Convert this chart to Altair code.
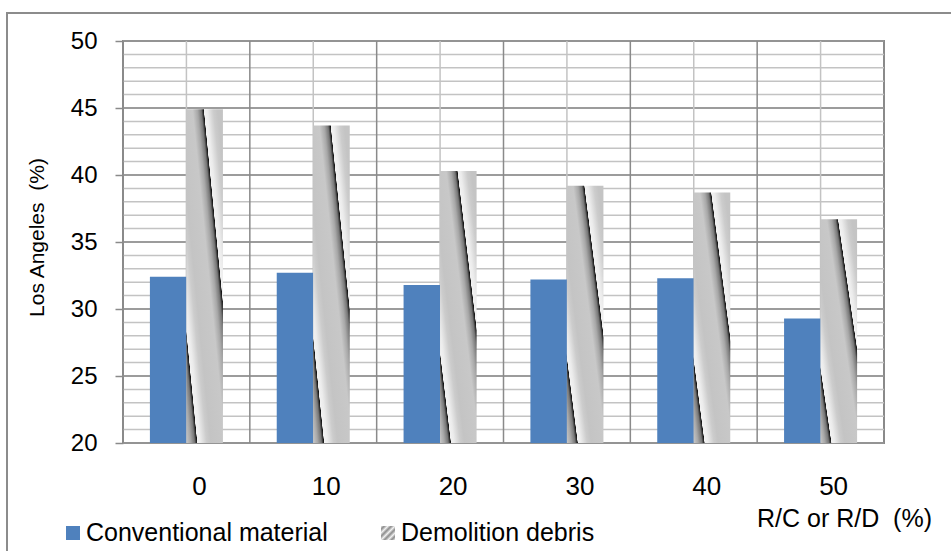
import altair as alt
import pandas as pd

# Los Angeles abrasion (%) for each replacement ratio
categories = ["0", "10", "20", "30", "40", "50"]
conventional = [32.4, 32.7, 31.8, 32.2, 32.3, 29.3]
demolition = [44.9, 43.7, 40.3, 39.2, 38.7, 36.7]
series = ["Conventional material", "Demolition debris"]
y_ticks = [20, 25, 30, 35, 40, 45, 50]
y_minor = list(range(20, 51))
x_title = "R/C or R/D \u00a0(%)"
y_title = "Los Angeles \u00a0(%)"

FONT = "Liberation Sans"
BLUE = "#4f81bd"
GRID_MAJOR = "#8a8a8a"
GRID_MINOR = "#c3c3c3"

W, H = 761, 402

bars = pd.DataFrame({
    "cat": categories * 2,
    "series": [series[0]] * len(categories) + [series[1]] * len(categories),
    "value": conventional + demolition,
})

x_scale = alt.Scale(domain=categories, paddingInner=0, paddingOuter=0)
y_scale = alt.Scale(domain=[20, 50], nice=False, zero=False)
off_scale = alt.Scale(domain=series, paddingInner=0, paddingOuter=0.737)


def grad_stops(pairs):
    return [alt.GradientStop(offset=o, color=c) for o, c in pairs]


def stripe_profile(s):
    return [
        (s - 0.16, "#c8c8c8"), (s - 0.09, "#a8a8a8"), (s - 0.035, "#777777"),
        (s - 0.008, "#2a2a2a"), (s, "#111111"), (s + 0.006, "#f2f2f2"),
        (s + 0.05, "#ececec"), (s + 0.14, "#cccccc"), (s + 0.2, "#c4c4c4"),
    ]


# slanted metallic stripes for the demolition-debris bars
stripe_fill = alt.Gradient(
    gradient="linear", x1=0, y1=1, x2=1.05, y2=0.055,
    stops=grad_stops([(0.0, "#b8b8b8")] + stripe_profile(0.153)
                     + stripe_profile(0.721) + [(1.0, "#c4c4c4")]),
)

# small striped swatch for the legend
swatch_fill = alt.Gradient(
    gradient="linear", x1=0, y1=0, x2=1, y2=1,
    stops=grad_stops([
        (0.0, "#f0f0f0"), (0.12, "#8a8a8a"), (0.25, "#f0f0f0"), (0.37, "#8a8a8a"),
        (0.5, "#f0f0f0"), (0.62, "#8a8a8a"), (0.75, "#f0f0f0"), (0.87, "#8a8a8a"),
        (1.0, "#f0f0f0"),
    ]),
)

x_axis = alt.Axis(
    title=None, labelAngle=0, labelFont=FONT, labelFontSize=26, labelColor="#000000",
    ticks=False, domain=False, grid=False, labelPadding=30, labelOffset=13,
)
y_axis = alt.Axis(
    values=y_ticks, title=y_title, grid=False, domain=False,
    tickSize=8, tickColor=GRID_MAJOR, tickWidth=1.5,
    labelFont=FONT, labelFontSize=24, labelColor="#000000", labelPadding=18,
    titleFont=FONT, titleFontSize=21, titleFontWeight="normal", titleColor="#000000",
    titleAngle=270, titleX=-80, titleY=196, titleAlign="center",
    titleBaseline="alphabetic", titleLimit=400,
)

# horizontal gridlines: every unit, darker every five
h_minor = alt.Chart(pd.DataFrame({"v": y_minor})).mark_rule(
    color=GRID_MINOR, strokeWidth=1.5
).encode(y=alt.Y("v:Q", scale=y_scale, axis=y_axis))
h_major = alt.Chart(pd.DataFrame({"v": y_ticks})).mark_rule(
    color=GRID_MAJOR, strokeWidth=1.5
).encode(y=alt.Y("v:Q", scale=y_scale, axis=y_axis))

# vertical gridlines: category boundaries and category centres
v_edges = alt.Chart(pd.DataFrame({"cat": categories})).mark_rule(
    color=GRID_MAJOR, strokeWidth=1.5
).encode(x=alt.X("cat:N", scale=x_scale, bandPosition=0, axis=x_axis))
v_mid = alt.Chart(pd.DataFrame({"cat": categories})).mark_rule(
    color=GRID_MINOR, strokeWidth=1.5
).encode(x=alt.X("cat:N", scale=x_scale, bandPosition=0.5, axis=x_axis))

conv_bars = alt.Chart(bars).transform_filter(
    alt.datum.series == series[0]
).mark_bar(color=BLUE).encode(
    x=alt.X("cat:N", scale=x_scale, axis=x_axis),
    xOffset=alt.XOffset("series:N", scale=off_scale),
    y=alt.Y("value:Q", scale=y_scale, axis=y_axis),
    y2=alt.datum(20),
)

demo_bars = alt.Chart(bars).transform_filter(
    alt.datum.series == series[1]
).mark_bar(color=stripe_fill).encode(
    x=alt.X("cat:N", scale=x_scale, axis=x_axis),
    xOffset=alt.XOffset("series:N", scale=off_scale),
    y=alt.Y("value:Q", scale=y_scale, axis=y_axis),
    y2=alt.datum(20),
)

# legend and x-axis title below the plot
one = pd.DataFrame({"k": [0]})
leg_sq1 = alt.Chart(one).mark_rect(color=BLUE).encode(
    x=alt.value(-57), x2=alt.value(-43), y=alt.value(485), y2=alt.value(499))
leg_tx1 = alt.Chart(one).mark_text(
    text=series[0], font=FONT, fontSize=25, align="left", baseline="alphabetic", color="#000000"
).encode(x=alt.value(-37), y=alt.value(500))
leg_sq2 = alt.Chart(one).mark_rect(color=swatch_fill).encode(
    x=alt.value(258), x2=alt.value(272), y=alt.value(485), y2=alt.value(499))
leg_tx2 = alt.Chart(one).mark_text(
    text=series[1], font=FONT, fontSize=25, align="left", baseline="alphabetic", color="#000000"
).encode(x=alt.value(278), y=alt.value(500))
x_ttl = alt.Chart(one).mark_text(
    text=x_title, font=FONT, fontSize=25, align="right", baseline="alphabetic", color="#000000"
).encode(x=alt.value(809), y=alt.value(486))

frame = alt.Chart(one).mark_rect(
    filled=False, stroke="#8c8c8c", strokeWidth=2
).encode(x=alt.value(-116), x2=alt.value(W + 120), y=alt.value(-28), y2=alt.value(H + 130))

chart = alt.layer(
    h_minor, h_major, v_mid, v_edges, conv_bars, demo_bars,
    leg_sq1, leg_tx1, leg_sq2, leg_tx2, x_ttl, frame,
).properties(
    width=W, height=H,
    autosize=alt.AutoSizeParams(type="none"),
    padding={"left": 123, "top": 41, "right": 951 - 123 - W, "bottom": 551 - 41 - H},
    background="#ffffff",
).configure_view(stroke="#8a8a8a", strokeWidth=2)

chart.save("out.html", embed_options={"renderer": "svg", "actions": False})
